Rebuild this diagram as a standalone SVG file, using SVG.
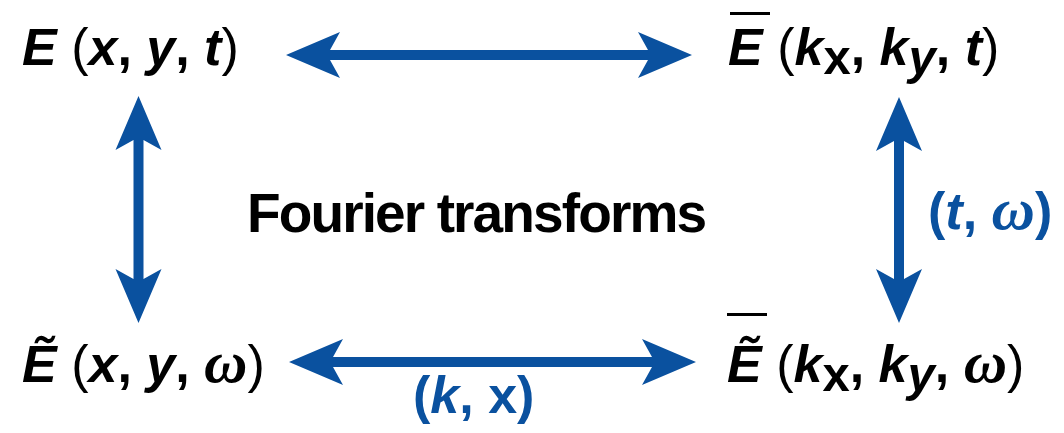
<svg xmlns="http://www.w3.org/2000/svg" width="1064" height="433" viewBox="0 0 1064 433">
<style>
.lbl{font-family:"Liberation Sans",Arial,sans-serif;font-size:52px;fill:#000}
.bi{font-weight:bold;font-style:italic}
.b{font-weight:bold}
.sub{font-size:49px}
.om{font-family:"Liberation Serif","Times New Roman",serif;font-style:italic;font-weight:bold;font-size:60px}
.blue{fill:#0a519f}
.arrow{fill:#0a519f}
</style>
<rect width="1064" height="433" fill="#fff"/>
<g id="connectors">
<path class="arrow" d="M286,55 L340,32 L330,50 L648,50 L638,32 L692,55 L638,78 L648,60 L330,60 L340,78 Z"/>
<path class="arrow" d="M289,362 L343,339 L333,357 L652,357 L642,339 L696,362 L642,385 L652,367 L333,367 L343,385 Z"/>
<path class="arrow" d="M138.5,96 L161.5,150 L143.5,140 L143.5,279 L161.5,269 L138.5,323 L115.5,269 L133.5,279 L133.5,140 L115.5,150 Z"/>
<path class="arrow" d="M899,97 L922,151 L904,141 L904,279 L922,269 L899,323 L876,269 L894,279 L894,141 L876,151 Z"/>
</g>
<g id="node-E-xyt">
<text class="lbl" x="22" y="65"><tspan class="bi">E</tspan><tspan> (</tspan><tspan class="bi">x</tspan><tspan class="b">, </tspan><tspan class="bi">y</tspan><tspan class="b">, </tspan><tspan class="bi">t</tspan><tspan>)</tspan></text>
</g>
<g id="node-Ebar-kkt">
<rect x="730" y="12" width="40" height="3" fill="#000"/>
<text class="lbl" x="728" y="65"><tspan class="bi">E</tspan><tspan> (</tspan><tspan class="bi">k</tspan><tspan class="b sub" dy="9">x</tspan><tspan class="b" dy="-9">, </tspan><tspan class="bi">k</tspan><tspan class="bi sub" dy="9">y</tspan><tspan class="b" dy="-9">, </tspan><tspan class="bi">t</tspan><tspan>)</tspan></text>
</g>
<g id="node-Etilde-xyw">
<text class="lbl" x="22" y="382"><tspan class="bi">Ẽ</tspan><tspan> (</tspan><tspan class="bi">x</tspan><tspan class="b">, </tspan><tspan class="bi">y</tspan><tspan class="b">, </tspan><tspan class="om">ω</tspan><tspan>)</tspan></text>
</g>
<g id="node-Ebartilde-kkw">
<rect x="727" y="313" width="40" height="3" fill="#000"/>
<text class="lbl" x="727" y="382"><tspan class="bi">Ẽ</tspan><tspan> (</tspan><tspan class="bi">k</tspan><tspan class="b sub" dy="9">x</tspan><tspan class="b" dy="-9">, </tspan><tspan class="bi">k</tspan><tspan class="bi sub" dy="9">y</tspan><tspan class="b" dy="-9">, </tspan><tspan class="om">ω</tspan><tspan>)</tspan></text>
</g>
<g id="title">
<text class="lbl b" x="247" y="232" style="font-size:55px" textLength="460" lengthAdjust="spacing">Fourier transforms</text>
</g>
<g id="label-tw">
<text class="lbl blue" x="928" y="229"><tspan class="b">(</tspan><tspan class="bi">t</tspan><tspan class="b">, </tspan><tspan class="om">ω</tspan><tspan class="b">)</tspan></text>
</g>
<g id="label-kx">
<text class="lbl blue" x="413" y="413"><tspan class="b">(</tspan><tspan class="bi">k</tspan><tspan class="b">, x)</tspan></text>
</g>
</svg>
